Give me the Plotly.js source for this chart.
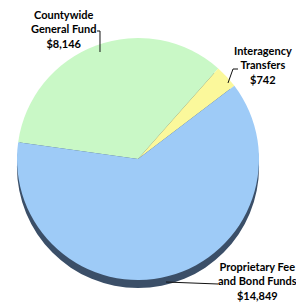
<!DOCTYPE html>
<html>
<head>
<meta charset="utf-8">
<script src="https://cdn.plot.ly/plotly-3.0.1.min.js"></script>
<style>html,body{margin:0;padding:0;background:#fff;}#chart{width:296px;height:302px;}</style>
</head>
<body>
<div id="chart"></div>
<script>
// Data
const labels = ["Countywide<br>General Fund", "Interagency<br>Transfers", "Proprietary Fee<br>and Bond Funds"];
const values = [8146, 742, 14849];
const colors = ["#c9f8c6", "#fbf89b", "#9ecbf7"];

// Label layout (pixel positions of label centres)
const labelPos = [[63, 29], [263, 65], [257, 281]];
const W = 296, H = 302;
const px = x => x / W;
const py = y => (H - y) / H;

const fmt = v => "$" + v.toLocaleString("en-US");

const cx = 138, cy = 159, r = 121, depth = 8;
const total = values.reduce((a, b) => a + b, 0);

// 3D-style edge: a darker disc just below the main pie
const shadow = {
  type: "pie",
  values: [total],
  labels: ["edge"],
  sort: false,
  textinfo: "none",
  marker: {colors: ["#3b4f68"], line: {width: 0}},
  domain: {x: [px(cx - r), px(cx + r)], y: [py(cy + r + depth), py(cy - r + depth)]},
  showlegend: false
};

const trace = {
  type: "pie",
  values: values,
  labels: labels,
  sort: false,
  direction: "clockwise",
  rotation: 278,
  textinfo: "none",
  hoverinfo: "label+value",
  marker: {colors: colors, line: {width: 0}},
  domain: {x: [px(cx - r), px(cx + r)], y: [py(cy + r), py(cy - r)]},
  showlegend: false
};

const annotations = labels.map((l, i) => ({
  xref: "paper", yref: "paper",
  x: px(labelPos[i][0]), y: py(labelPos[i][1]),
  xanchor: "center", yanchor: "middle",
  text: l + "<br>" + fmt(values[i]),
  showarrow: false,
  font: {family: "Lato, 'Open Sans', sans-serif", size: 11, color: "#000", weight: "bold"},
  align: "center"
}));

const leader = (d) => ({type: "path", xref: "paper", yref: "paper", path: d, line: {color: "#111", width: 1}, layer: "above"});
const P = (x, y) => px(x).toFixed(4) + "," + py(y).toFixed(4);

const shapes = [
  leader("M" + P(97, 31) + " L" + P(100, 31) + " L" + P(100, 52)),
  leader("M" + P(238, 69) + " L" + P(233, 69) + " L" + P(228, 83)),
  leader("M" + P(218, 284) + " L" + P(166, 282))
];

const layout = {
  width: W, height: H,
  margin: {l: 0, r: 0, t: 0, b: 0},
  paper_bgcolor: "#ffffff",
  showlegend: false,
  annotations: annotations,
  shapes: shapes
};

Plotly.newPlot("chart", [shadow, trace], layout, {displayModeBar: false, staticPlot: true});
</script>
</body>
</html>
